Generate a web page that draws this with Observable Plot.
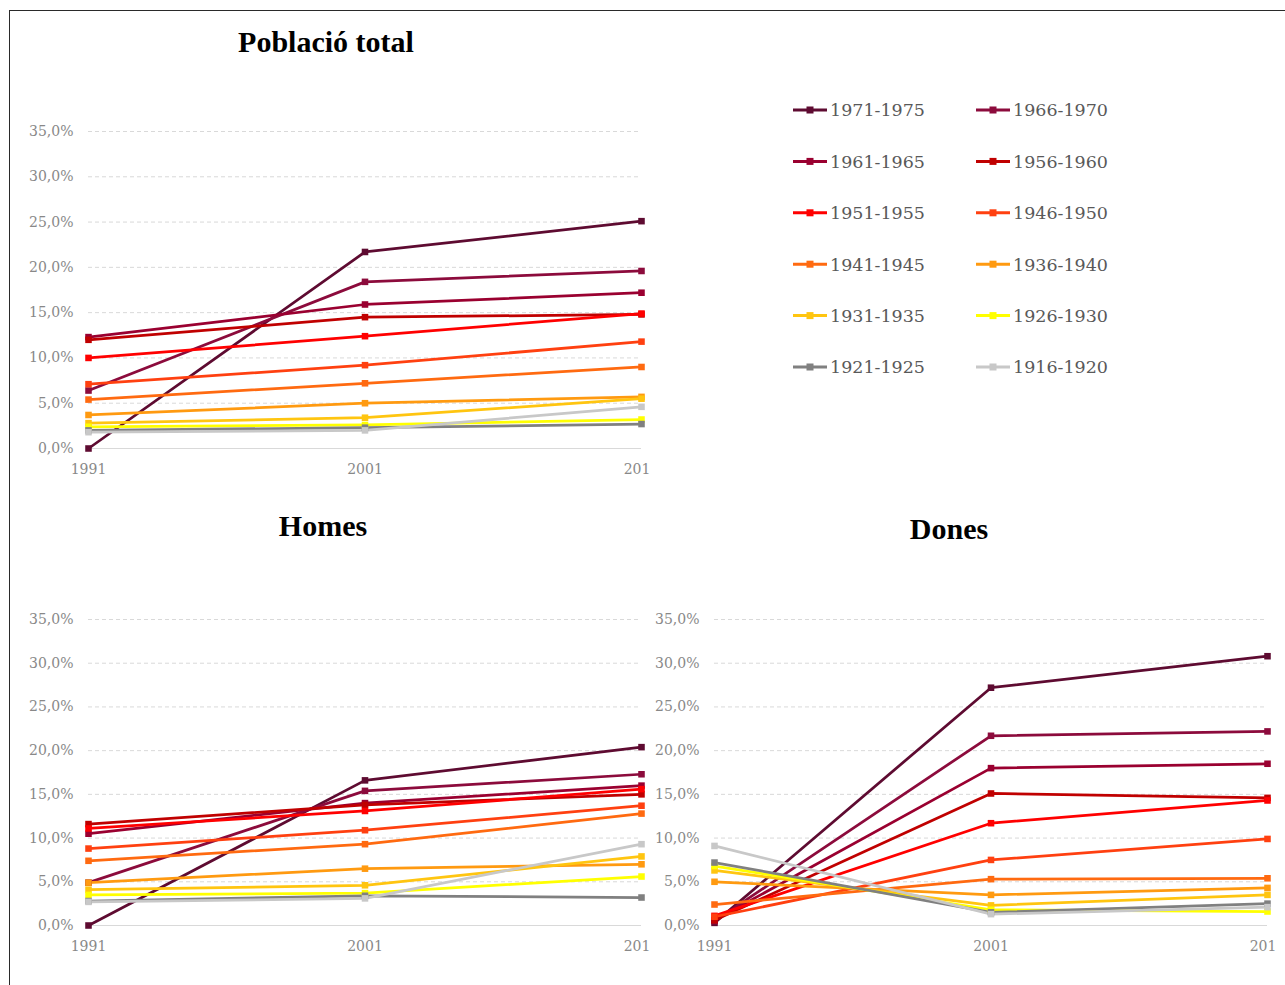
<!DOCTYPE html>
<html>
<head>
<meta charset="utf-8">
<script src="https://cdn.jsdelivr.net/npm/d3@7"></script>
<script src="https://cdn.jsdelivr.net/npm/@observablehq/plot@0.6"></script>
<style>
  html, body { margin: 0; padding: 0; background: #fff; overflow: hidden; }
  #page { position: relative; width: 1285px; height: 985px; overflow: hidden; background: #fff; }
  .frame { position: absolute; left: 9px; top: 10px; width: 1320px; height: 1020px; border: 1px solid #2a2a2a; box-sizing: border-box; }
  .title { position: absolute; font-family: "Liberation Serif", serif; font-weight: bold; font-size: 30px; line-height: 30px; color: #000; white-space: nowrap; transform: translateX(-50%); }
  .panel { position: absolute; overflow: hidden; }
  .panel svg { background: transparent !important; }
  #legend { position: absolute; left: 0; top: 0; }
</style>
</head>
<body>
<div id="page">
  <div class="frame"></div>
  <div class="title" style="left:326px; top:27px;">Població total</div>
  <div class="title" style="left:323px; top:511px;">Homes</div>
  <div class="title" style="left:949px; top:514px;">Dones</div>
  <div class="panel" id="p-total" style="left:0px; top:100px;"></div>
  <div class="panel" id="p-homes" style="left:0px; top:590px;"></div>
  <div class="panel" id="p-dones" style="left:626px; top:590px;"></div>
  <svg id="legend" width="1285" height="420"></svg>
</div>
<script>
// ---- Data (percent of population) ----
const years = [1991, 2001, 2011];
const yTicks = [0, 5, 10, 15, 20, 25, 30, 35];
const cohorts = ["1971-1975", "1966-1970", "1961-1965", "1956-1960", "1951-1955", "1946-1950",
                 "1941-1945", "1936-1940", "1931-1935", "1926-1930", "1921-1925", "1916-1920"];
const colors = ["#5e0b31", "#8c0b3c", "#9a0030", "#c00000", "#ff0000", "#ff4010",
                "#ff6a10", "#ff9a10", "#ffc510", "#ffff00", "#808080", "#c8c8c8"];

// values per cohort: [1991, 2001, 2011]
const totalValues = [
  [0.0, 21.7, 25.1],
  [6.4, 18.4, 19.6],
  [12.3, 15.9, 17.2],
  [12.0, 14.5, 14.8],
  [10.0, 12.4, 14.9],
  [7.1, 9.2, 11.8],
  [5.4, 7.2, 9.0],
  [3.7, 5.0, 5.7],
  [2.8, 3.4, 5.5],
  [2.4, 2.6, 3.2],
  [2.0, 2.3, 2.7],
  [1.8, 2.0, 4.6]
];
const homesValues = [
  [0.0, 16.6, 20.4],
  [4.9, 15.4, 17.3],
  [10.5, 14.0, 16.0],
  [11.6, 13.8, 15.0],
  [11.1, 13.1, 15.6],
  [8.8, 10.9, 13.7],
  [7.4, 9.3, 12.8],
  [4.9, 6.5, 7.0],
  [4.1, 4.6, 7.9],
  [3.5, 3.7, 5.6],
  [2.8, 3.4, 3.2],
  [2.7, 3.1, 9.3]
];
const donesValues = [
  [0.3, 27.2, 30.8],
  [0.5, 21.7, 22.2],
  [0.6, 18.0, 18.5],
  [0.6, 15.1, 14.6],
  [1.1, 11.7, 14.3],
  [1.0, 7.5, 9.9],
  [2.4, 5.3, 5.4],
  [5.0, 3.5, 4.3],
  [6.3, 2.3, 3.5],
  [6.8, 1.8, 1.6],
  [7.2, 1.5, 2.5],
  [9.1, 1.3, 2.1]
];

function toRows(values) {
  return cohorts.flatMap((c, i) => years.map((y, j) => ({cohort: c, year: y, value: values[i][j]})));
}

const fmtPct = d => d.toFixed(1).replace(".", ",") + "%";

function makePanel(values, {marginTop, height}) {
  const data = toRows(values);
  return Plot.plot({
    width: 651,
    height,
    marginLeft: 88,
    marginRight: 10,
    marginTop,
    marginBottom: 40,
    style: {fontFamily: "DejaVu Serif, serif", fontSize: "14px", color: "#888888", background: "transparent", overflow: "hidden"},
    x: {domain: [1991, 2011]},
    y: {domain: [0, 35]},
    color: {domain: cohorts, range: colors},
    marks: [
      Plot.gridY(yTicks.filter(d => d > 0), {stroke: "#d9d9d9", strokeOpacity: 1, strokeDasharray: "4,3"}),
      Plot.ruleY([0], {stroke: "#d9d9d9", strokeWidth: 1}),
      Plot.axisY({ticks: yTicks, tickSize: 0, tickPadding: 15, tickFormat: fmtPct, label: null}),
      Plot.axisX({ticks: years, tickSize: 0, tickPadding: 16, tickFormat: d => String(d), label: null}),
      Plot.line(data, {x: "year", y: "value", z: "cohort", stroke: "cohort", strokeWidth: 2.75}),
      Plot.dot(data, {x: "year", y: "value", fill: "cohort", symbol: "square", r: 3.7})
    ]
  });
}

document.getElementById("p-total").append(makePanel(totalValues, {marginTop: 31, height: 388}));
document.getElementById("p-homes").append(makePanel(homesValues, {marginTop: 29, height: 375}));
document.getElementById("p-dones").append(makePanel(donesValues, {marginTop: 29, height: 375}));

// ---- Legend ----
const legend = d3.select("#legend");
const colX = [793, 976];
const rowY0 = 110, rowStep = 51.4;
cohorts.forEach((c, i) => {
  const x = colX[i % 2];
  const y = rowY0 + Math.floor(i / 2) * rowStep;
  const g = legend.append("g").attr("transform", `translate(${x},${y})`);
  g.append("line").attr("x1", 0).attr("x2", 34).attr("y1", 0).attr("y2", 0)
    .attr("stroke", colors[i]).attr("stroke-width", 3);
  g.append("rect").attr("x", 13.5).attr("y", -3.5).attr("width", 7).attr("height", 7).attr("fill", colors[i]);
  g.append("text").attr("x", 37).attr("y", 0).attr("dy", "0.36em")
    .attr("font-family", "DejaVu Serif, serif").attr("font-size", "17.5px").attr("fill", "#595959")
    .text(c);
});
</script>
</body>
</html>
